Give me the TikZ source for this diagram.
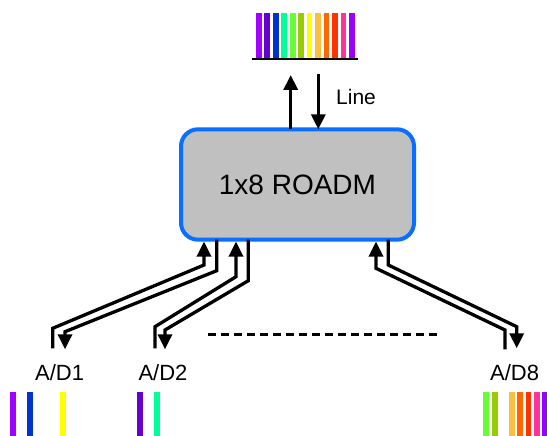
\documentclass[tikz,border=0pt]{standalone}
\usepackage{fontspec}
\setmainfont{Liberation Sans}
\usetikzlibrary{arrows.meta}
\definecolor{c1}{HTML}{A000FF}
\definecolor{c2}{HTML}{6600CC}
\definecolor{c3}{HTML}{0033CC}
\definecolor{c4}{HTML}{00FF99}
\definecolor{c5}{HTML}{66FF33}
\definecolor{c6}{HTML}{99CC00}
\definecolor{c7}{HTML}{FFFF00}
\definecolor{c8}{HTML}{FBBF40}
\definecolor{c9}{HTML}{FF6600}
\definecolor{c10}{HTML}{FF3300}
\definecolor{c11}{HTML}{FF3399}
\definecolor{c12}{HTML}{9900FF}
\definecolor{boxblue}{HTML}{0A6EFF}
\definecolor{boxgray}{HTML}{C0C0C0}
\begin{document}
\begin{tikzpicture}[x=1pt,y=-1pt,
  wire/.style={line width=3.3pt,black,line join=miter},
  arr/.style={wire,-{Triangle[width=14pt,length=15pt]}},
  lbl/.style={anchor=base west,inner sep=0pt,font=\fontsize{22}{26}\selectfont}]
\useasboundingbox (0,0) rectangle (547,436);
% top spectrum
\foreach \c [count=\i from 0] in {c1,c2,c3,c4,c5,c6,c7,c8,c9,c10,c11,c12}
  \fill[\c] ({256+8.46*\i},13.3) rectangle ++(5.7,44.7);
\draw[line width=2pt] (251.7,59.3) -- (358.3,59.3);
\coordinate (lineup) at (290.7,75);
\coordinate (linedn) at (318.3,74);
% box
\node[draw=boxblue,fill=boxgray,line width=4pt,rounded corners=17pt,
  minimum width=233pt,minimum height=110.4pt,inner sep=0pt,outer sep=0pt,
  font=\fontsize{28}{32}\selectfont] (roadm) at (297.5,184.5) {\raisebox{-2pt}{1x8 ROADM}};
\coordinate (bot) at (0,241.5);
% line arrows
\draw[arr] (roadm.north -| lineup) -- (lineup);
\draw[arr] (linedn) -- (roadm.north -| linedn);
\node[lbl,font=\fontsize{21}{24}\selectfont] (line) at (336,105) {Line};
% labels
\node[lbl] (ad1) at (35,380) {A/D1};
\node[lbl] (ad2) at (138.3,380) {A/D2};
\node[lbl] (ad8) at (490,380) {A/D8};
% connector end points
\coordinate (a1) at (52.7,348.3);
\coordinate (b1) at (65,349.3);
\coordinate (a2) at (155,348.3);
\coordinate (b2) at (165,349.3);
\coordinate (a8) at (505,349.3);
\coordinate (b8) at (516.7,348.3);
% A/D1
\draw[arr] (a1) -- (52.7,328.3) -- (204,265) -- (bot -| 204,0);
\draw[arr] (roadm.south -| 216.7,0) -- (216.7,270.7) -- (65,331.7) -- (b1);
% A/D2
\draw[arr] (a2) -- (155,326.7) -- (236,276.7) -- (bot -| 236,0);
\draw[arr] (roadm.south -| 248.3,0) -- (248.3,280.7) -- (165,330) -- (b2);
% A/D8
\draw[arr] (a8) -- (505,330) -- (376,268.3) -- (bot -| 376,0);
\draw[arr] (roadm.south -| 388.3,0) -- (388.3,265) -- (516.7,326.7) -- (b8);
% dashed
\coordinate (dl) at (208.3,334.3);
\coordinate (dr) at (441,334.3);
\draw[line width=2.7pt,dash pattern=on 8pt off 5pt] (dl) -- (dr);
% bottom spectra
\foreach \x/\c in {10/c1,27/c3,60.3/c7,137/c2,154/c4,483.3/c5,492/c6,509/c8,517.3/c9,525.7/c10,534/c11,542.3/c12}
  \fill[\c] (\x,392.3) rectangle ++(5.7,43.7);
\end{tikzpicture}
\end{document}
